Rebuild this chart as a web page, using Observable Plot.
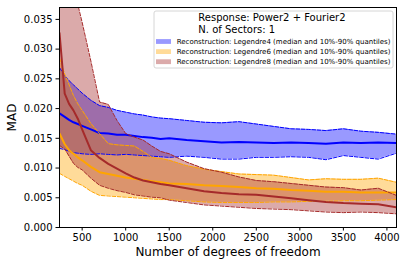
<!DOCTYPE html>
<html>
<head>
<meta charset="utf-8">
<script src="https://cdn.jsdelivr.net/npm/d3@7"></script>
<script src="https://cdn.jsdelivr.net/npm/@observablehq/plot@0.6"></script>
<style>
  html, body { margin: 0; padding: 0; background: white; }
</style>
</head>
<body>
<div id="chart"></div>
<script>
// Degrees of freedom
const dof = [240, 300, 350, 400, 450, 500, 600, 700, 800, 900, 1000, 1100, 1200, 1300, 1400, 1500, 1700, 1900, 2100, 2300, 2500, 2700, 2900, 3100, 3300, 3500, 3700, 3900, 4110];

// Legendre4
const leg4Median = [0.0192, 0.0186, 0.0181, 0.0177, 0.0174, 0.0171, 0.0165, 0.0159, 0.0158, 0.0156, 0.0156, 0.0154, 0.0152, 0.0151, 0.0149, 0.0150, 0.0147, 0.0145, 0.0143, 0.0144, 0.0143, 0.0142, 0.0143, 0.0142, 0.0141, 0.0143, 0.0142, 0.0143, 0.0142];
const leg4Q90 = [0.0269, 0.0255, 0.0247, 0.0240, 0.0233, 0.0226, 0.0214, 0.0205, 0.0202, 0.0197, 0.0194, 0.0191, 0.0189, 0.0186, 0.0184, 0.0183, 0.0180, 0.0177, 0.0176, 0.0178, 0.0174, 0.0170, 0.0166, 0.0165, 0.0163, 0.0166, 0.0162, 0.0160, 0.0157];
const leg4Q10 = [0.0133, 0.0131, 0.0128, 0.0126, 0.0125, 0.0124, 0.0123, 0.0124, 0.0123, 0.0122, 0.0123, 0.0122, 0.0121, 0.0120, 0.0119, 0.0118, 0.0120, 0.0118, 0.0115, 0.0115, 0.0118, 0.0118, 0.0119, 0.0118, 0.0114, 0.0121, 0.0118, 0.0115, 0.0125];

// Legendre6
const leg6Median = [0.0158, 0.0140, 0.0130, 0.0124, 0.0118, 0.0113, 0.0102, 0.0093, 0.0090, 0.0087, 0.0084, 0.0082, 0.0080, 0.0078, 0.0076, 0.0074, 0.0073, 0.0071, 0.0070, 0.0068, 0.0066, 0.0065, 0.0063, 0.0062, 0.0060, 0.0060, 0.0059, 0.0059, 0.0059];
const leg6Q90 = [0.0285, 0.0258, 0.0240, 0.0222, 0.0208, 0.0197, 0.0175, 0.0158, 0.0141, 0.0139, 0.0138, 0.0137, 0.0128, 0.0118, 0.0116, 0.0113, 0.0104, 0.0098, 0.0094, 0.0090, 0.0089, 0.0088, 0.0084, 0.0080, 0.0082, 0.0081, 0.0081, 0.0083, 0.0076];
const leg6Q10 = [0.0091, 0.0086, 0.0082, 0.0078, 0.0074, 0.0071, 0.0061, 0.0054, 0.0053, 0.0052, 0.0051, 0.0050, 0.0049, 0.0048, 0.0047, 0.0047, 0.0045, 0.0043, 0.0042, 0.0042, 0.0042, 0.0043, 0.0043, 0.0044, 0.0044, 0.0045, 0.0045, 0.0046, 0.0047];

// Legendre8
const leg8Median = [0.0327, 0.0225, 0.0208, 0.0197, 0.0183, 0.0165, 0.0130, 0.0117, 0.0107, 0.0099, 0.0091, 0.0084, 0.0079, 0.0076, 0.0073, 0.0071, 0.0066, 0.0061, 0.0058, 0.0056, 0.0055, 0.0052, 0.0049, 0.0046, 0.0043, 0.0041, 0.0040, 0.0039, 0.0034];
const leg8Q90 = [0.0510, 0.0470, 0.0440, 0.0407, 0.0375, 0.0345, 0.0280, 0.0211, 0.0207, 0.0180, 0.0158, 0.0152, 0.0147, 0.0137, 0.0128, 0.0124, 0.0110, 0.0099, 0.0093, 0.0085, 0.0079, 0.0077, 0.0074, 0.0071, 0.0068, 0.0067, 0.0063, 0.0066, 0.0054];
const leg8Q10 = [0.0138, 0.0132, 0.0120, 0.0108, 0.0101, 0.0097, 0.0083, 0.0071, 0.0066, 0.0062, 0.0059, 0.0055, 0.0053, 0.0051, 0.0050, 0.0046, 0.0042, 0.0038, 0.0036, 0.0034, 0.0032, 0.0031, 0.0030, 0.0028, 0.0026, 0.0025, 0.0026, 0.0025, 0.0023];

// Ticks and labels
const xTicks = [500, 1000, 1500, 2000, 2500, 3000, 3500, 4000];
const yTicks = [0, 0.005, 0.010, 0.015, 0.020, 0.025, 0.030, 0.035];
const seriesNames = ["Legendre4", "Legendre6", "Legendre8"];
const seriesColors = ["#0000ff", "#ffa500", "#a52a2a"];
const legendTitle = ["Response: Power2 + Fourier2", "N. of Sectors: 1"];
const xLabel = "Number of degrees of freedom";
const yLabel = "MAD";

const series = [
  {name: seriesNames[0], color: seriesColors[0], med: leg4Median, lo: leg4Q10, hi: leg4Q90},
  {name: seriesNames[1], color: seriesColors[1], med: leg6Median, lo: leg6Q10, hi: leg6Q90},
  {name: seriesNames[2], color: seriesColors[2], med: leg8Median, lo: leg8Q10, hi: leg8Q90}
];
const tables = series.map(s => dof.map((x, i) => ({x, med: s.med[i], lo: s.lo[i], hi: s.hi[i]})));

const fills = series.map((s, k) => Plot.areaY(tables[k], {x: "x", y1: "lo", y2: "hi", fill: s.color, fillOpacity: 0.4, clip: true}));
const lines = series.flatMap((s, k) => [
  Plot.line(tables[k], {x: "x", y: "hi", stroke: s.color, strokeWidth: 1, strokeDasharray: "3.7,1.6", clip: true}),
  Plot.line(tables[k], {x: "x", y: "lo", stroke: s.color, strokeWidth: 1, strokeDasharray: "3.7,1.6", clip: true}),
  Plot.line(tables[k], {x: "x", y: "med", stroke: s.color, strokeWidth: 2, clip: true})
]);

const svg = Plot.plot({
  width: 408,
  height: 266,
  marginLeft: 59,
  marginRight: 12,
  marginTop: 7,
  marginBottom: 39,
  style: {fontFamily: "DejaVu Sans", fontSize: "10px", color: "black", background: "white"},
  x: {domain: [240, 4110]},
  y: {domain: [0, 0.037]},
  marks: [
    ...fills,
    ...lines,
    Plot.frame({stroke: "black", strokeWidth: 1}),
    Plot.axisX({ticks: xTicks, tickSize: 3.5, tickPadding: 3, tickFormat: d => String(d), label: null, fontSize: 10}),
    Plot.axisY({ticks: yTicks, tickSize: 3.5, tickPadding: 3.5, tickFormat: d => d.toFixed(3), label: null, fontSize: 10}),
    Plot.text([xLabel], {frameAnchor: "bottom", dy: 25, fontSize: 12, textAnchor: "middle", lineAnchor: "middle"}),
    Plot.text([yLabel], {frameAnchor: "left", dx: -47, rotate: -90, fontSize: 12, textAnchor: "middle", lineAnchor: "middle"})
  ]
});

// Legend (drawn inside the plot SVG)
const g = d3.select(svg).append("g").attr("font-family", "DejaVu Sans").attr("text-anchor", "start");
g.append("rect").attr("x", 154).attr("y", 11).attr("width", 239).attr("height", 57)
  .attr("rx", 2).attr("fill", "white").attr("fill-opacity", 0.8).attr("stroke", "#cccccc").attr("stroke-width", 0.8);
legendTitle.forEach((t, i) => {
  g.append("text").attr("x", 198.3).attr("y", 21 + i * 11.8).attr("font-size", 10)
    .attr("text-anchor", "start").attr("fill", "black").text(t);
});
series.forEach((s, i) => {
  const cy = 41.5 + i * 10.1;
  g.append("rect").attr("x", 156).attr("y", cy - 2.4).attr("width", 15).attr("height", 4.8)
    .attr("fill", s.color).attr("fill-opacity", 0.4);
  g.append("text").attr("x", 176.7).attr("y", cy + 2.5).attr("font-size", 7)
    .attr("text-anchor", "start").attr("fill", "black")
    .text(`Reconstruction: ${s.name} (median and 10%-90% quantiles)`);
});

document.getElementById("chart").appendChild(svg);
</script>
</body>
</html>
